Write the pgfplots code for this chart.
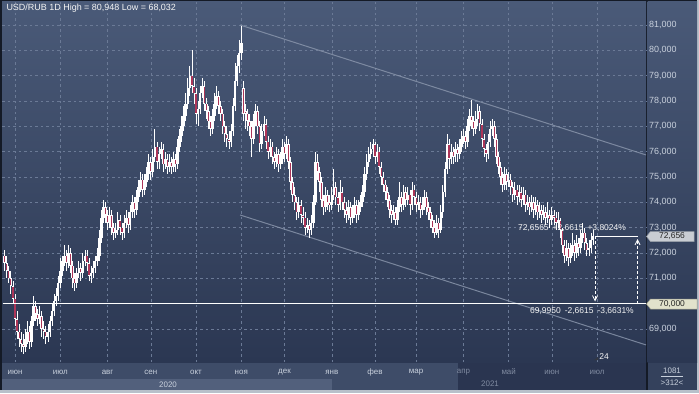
\documentclass[border=0pt]{standalone}
\usepackage{pgfplots}
\pgfplotsset{compat=1.18}
\usepackage{pgfplotstable}
\usepackage{fontspec}
\setmainfont{Liberation Sans}
\usetikzlibrary{arrows.meta}
\definecolor{bgtop}{HTML}{4A5A78}
\definecolor{bgbot}{HTML}{2B3752}
\definecolor{gridc}{HTML}{6B7A96}
\definecolor{framec}{HTML}{B8C0CA}
\definecolor{darkl}{HTML}{141A26}
\definecolor{mrow}{HTML}{3E4C68}
\definecolor{yrow}{HTML}{52607C}
\definecolor{drow}{HTML}{2A3550}
\definecolor{rbox}{HTML}{34415C}
\definecolor{lbl}{HTML}{C8D0DC}
\definecolor{dimtxt}{HTML}{7F8AA0}
\definecolor{candred}{HTML}{AC3558}
\definecolor{chan}{HTML}{8C98AE}
\pgfplotstableread{
i o h l c
0 71.9 72.1 71.3 71.6
1 71.6 71.9 71.0 71.3
2 71.3 71.5 70.8 71.0
3 71.0 71.3 70.4 70.7
4 70.7 70.9 70.0 70.2
5 70.2 70.4 69.1 69.4
6 69.4 69.7 68.6 68.9
7 68.9 69.2 68.3 68.6
8 68.6 68.9 68.1 68.4
9 68.4 68.8 68.03 68.3
10 68.3 69.0 68.1 68.6
11 68.6 69.3 68.4 68.9
12 68.9 69.1 68.2 68.5
13 68.5 69.5 68.3 69.3
14 69.3 70.3 69.1 69.9
15 69.9 70.1 69.3 69.6
16 69.6 69.8 69.1 69.4
17 69.4 69.9 69.2 69.5
18 69.5 69.7 68.7 69.0
19 69.0 69.3 68.6 68.9
20 68.9 69.1 68.4 68.7
21 68.7 69.2 68.5 68.9
22 68.9 69.5 68.7 69.3
23 69.3 70.0 69.1 69.7
24 69.7 70.4 69.5 70.1
25 70.1 70.6 69.9 70.3
26 70.3 71.1 70.1 70.8
27 70.8 71.8 70.6 71.3
28 71.3 71.9 71.1 71.7
29 71.7 72.3 71.5 71.9
30 71.9 72.1 71.3 71.6
31 71.6 72.3 71.4 72.0
32 72.0 72.2 71.2 71.5
33 71.5 71.7 70.6 71.0
34 71.0 71.2 70.5 70.8
35 70.8 71.4 70.6 71.2
36 71.2 71.7 71.0 71.4
37 71.4 71.6 70.9 71.2
38 71.2 72.0 71.0 71.7
39 71.7 72.1 71.5 71.9
40 71.9 72.1 71.3 71.6
41 71.6 71.8 70.9 71.1
42 71.1 71.5 70.8 71.2
43 71.2 71.7 71.0 71.4
44 71.4 71.9 71.2 71.7
45 71.7 72.2 71.5 71.9
46 71.9 72.9 71.7 72.6
47 72.6 73.7 72.4 73.4
48 73.4 74.1 73.2 73.8
49 73.8 74.0 73.2 73.5
50 73.5 73.7 72.9 73.2
51 73.2 73.8 73.0 73.5
52 73.5 73.7 72.7 73.0
53 73.0 73.2 72.5 72.8
54 72.8 73.2 72.6 72.9
55 72.9 73.6 72.7 73.3
56 73.3 73.5 72.7 73.0
57 73.0 73.2 72.5 72.8
58 72.8 73.5 72.6 73.2
59 73.2 73.7 73.0 73.4
60 73.4 73.6 72.8 73.1
61 73.1 73.9 72.9 73.6
62 73.6 74.3 73.4 74.0
63 74.0 74.2 73.4 73.7
64 73.7 74.5 73.5 74.2
65 74.2 74.9 74.0 74.6
66 74.6 75.2 74.4 74.9
67 74.9 75.1 74.2 74.5
68 74.5 75.1 74.3 74.8
69 74.8 75.4 74.6 75.1
70 75.1 75.9 74.9 75.6
71 75.6 75.8 74.9 75.2
72 75.2 76.1 75.0 75.8
73 75.8 76.9 75.6 76.2
74 76.2 76.4 75.3 75.6
75 75.6 76.2 75.3 75.9
76 75.9 76.4 75.7 76.1
77 76.1 76.3 75.2 75.5
78 75.5 76.0 75.3 75.7
79 75.7 75.9 75.1 75.4
80 75.4 75.9 75.2 75.6
81 75.6 75.8 75.1 75.4
82 75.4 76.0 75.2 75.7
83 75.7 75.9 75.2 75.5
84 75.5 76.5 75.3 76.2
85 76.2 76.9 76.0 76.6
86 76.6 77.4 76.4 77.0
87 77.0 77.8 76.8 77.4
88 77.4 78.3 77.2 77.9
89 77.9 78.9 77.7 78.5
90 78.5 79.4 78.2 79.0
91 79.0 80.0 78.3 78.6
92 78.6 78.9 77.9 78.3
93 78.3 78.5 77.1 77.5
94 77.5 78.0 77.0 77.7
95 77.7 78.6 77.5 78.3
96 78.3 78.9 78.1 78.6
97 78.6 78.8 77.6 77.9
98 77.9 78.1 77.3 77.6
99 77.6 77.8 76.9 77.2
100 77.2 77.4 76.6 76.9
101 76.9 77.7 76.7 77.4
102 77.4 78.3 77.2 77.9
103 77.9 78.6 77.7 78.2
104 78.2 78.4 77.5 77.8
105 77.8 78.0 77.2 77.5
106 77.5 77.7 76.7 77.0
107 77.0 77.2 76.4 76.7
108 76.7 77.0 76.2 76.5
109 76.5 76.8 76.1 76.4
110 76.4 77.1 76.2 76.8
111 76.8 78.1 76.6 77.8
112 77.8 79.5 77.6 78.8
113 78.8 79.8 78.6 79.4
114 79.4 80.4 79.1 79.9
115 79.9 80.948 79.6 80.3
116 78.5 78.8 77.2 77.5
117 77.6 77.9 76.9 77.5
118 77.5 77.7 76.8 77.2
119 77.2 77.5 76.6 77.0
120 77.0 77.2 75.8 76.5
121 76.5 77.5 76.3 77.2
122 77.2 77.9 77.0 77.6
123 77.6 77.8 76.7 77.0
124 77.0 77.2 76.0 76.3
125 76.3 77.1 76.1 76.8
126 76.8 77.4 76.6 77.1
127 77.1 77.3 76.1 76.4
128 76.4 76.6 75.7 76.0
129 76.0 76.5 75.8 76.2
130 76.2 76.4 75.5 75.8
131 75.8 76.0 75.3 75.6
132 75.6 76.2 75.4 75.9
133 75.9 76.1 75.2 75.5
134 75.5 76.0 75.3 75.7
135 75.7 76.5 75.5 76.2
136 76.2 76.4 75.6 75.9
137 75.9 76.6 75.7 76.3
138 76.3 76.5 75.3 75.6
139 75.6 75.8 74.5 74.8
140 74.8 75.0 74.0 74.3
141 74.3 74.6 73.7 74.0
142 74.0 74.2 73.3 73.6
143 73.6 74.2 73.4 73.9
144 73.9 74.1 73.2 73.5
145 73.5 73.8 73.1 73.4
146 73.4 73.6 72.7 73.0
147 73.0 73.4 72.8 73.1
148 73.1 73.3 72.6 72.9
149 72.9 73.5 72.7 73.2
150 73.2 74.3 73.0 74.0
151 74.0 76.0 73.9 75.6
152 75.6 75.9 74.9 75.2
153 75.2 75.4 74.4 74.8
154 74.8 75.0 73.8 74.1
155 74.1 74.3 73.5 73.8
156 73.8 74.6 73.6 74.3
157 74.3 74.5 73.7 74.0
158 74.0 74.3 73.6 73.9
159 73.9 74.6 73.7 74.3
160 74.3 75.3 74.1 74.6
161 74.6 74.8 73.9 74.2
162 74.2 74.4 73.6 73.9
163 73.9 74.9 73.7 74.4
164 74.4 74.6 73.7 74.0
165 74.0 74.2 73.4 73.7
166 73.7 74.0 73.2 73.5
167 73.5 74.1 73.3 73.8
168 73.8 74.0 73.1 73.4
169 73.4 73.9 73.2 73.6
170 73.6 74.2 73.4 73.9
171 73.9 74.1 73.2 73.5
172 73.5 74.1 73.3 73.8
173 73.8 74.3 73.6 74.0
174 74.0 74.7 73.8 74.4
175 74.4 75.4 74.2 75.1
176 75.1 75.9 74.9 75.6
177 75.6 76.2 75.4 75.9
178 75.9 76.4 75.7 76.1
179 76.1 76.5 75.8 76.3
180 76.3 76.4 75.5 75.8
181 75.8 76.3 75.6 76.0
182 76.0 76.2 75.1 75.4
183 75.4 75.6 74.7 75.0
184 75.0 75.2 74.4 74.7
185 74.7 74.9 74.1 74.4
186 74.4 74.6 73.8 74.1
187 74.1 74.3 73.4 73.7
188 73.7 73.9 73.2 73.5
189 73.5 73.9 73.3 73.6
190 73.6 73.8 73.1 73.3
191 73.3 74.1 73.1 73.8
192 73.8 74.8 73.6 74.2
193 74.2 74.4 73.6 73.9
194 73.9 74.7 73.7 74.4
195 74.4 74.6 73.8 74.1
196 74.1 74.6 73.9 74.3
197 74.3 74.5 73.5 73.9
198 73.9 74.8 73.7 74.5
199 74.5 74.7 73.9 74.2
200 74.2 74.4 73.6 73.9
201 73.9 74.3 73.7 74.0
202 74.0 74.2 73.4 73.7
203 73.7 74.2 73.5 73.9
204 73.9 74.5 73.7 74.2
205 74.2 74.4 73.5 73.8
206 73.8 74.0 73.3 73.6
207 73.6 73.8 73.0 73.3
208 73.3 73.5 72.8 73.0
209 73.0 73.3 72.6 72.8
210 72.8 73.5 72.7 73.2
211 73.2 73.4 72.6 72.9
212 72.9 73.9 72.8 73.6
213 73.6 74.7 73.4 74.4
214 74.4 75.6 74.2 75.3
215 75.3 76.7 75.1 76.3
216 76.3 76.5 75.3 75.7
217 75.7 76.3 75.5 76.0
218 76.0 76.2 75.5 75.8
219 75.8 76.4 75.6 76.1
220 76.1 76.3 75.6 75.9
221 75.9 76.5 75.7 76.2
222 76.2 76.8 76.0 76.5
223 76.5 76.9 76.3 76.6
224 76.6 76.8 76.1 76.4
225 76.4 77.3 76.2 77.0
226 77.0 77.7 76.8 77.4
227 77.4 78.05 76.9 77.2
228 77.2 77.4 76.6 76.9
229 76.9 77.6 76.7 77.3
230 77.3 77.9 77.0 77.6
231 77.6 77.8 76.8 77.1
232 77.1 77.3 76.2 76.5
233 76.5 76.7 75.8 76.1
234 76.1 76.3 75.6 75.9
235 75.9 76.7 75.7 76.4
236 76.4 77.2 76.2 76.9
237 76.9 77.3 76.6 77.0
238 77.0 77.2 76.2 76.5
239 76.5 76.7 75.5 75.8
240 75.8 76.0 75.1 75.4
241 75.4 75.6 74.7 75.0
242 75.0 75.2 74.4 74.7
243 74.7 75.4 74.5 75.1
244 75.1 75.3 74.5 74.8
245 74.8 75.2 74.6 74.9
246 74.9 75.1 74.3 74.6
247 74.6 74.8 74.0 74.3
248 74.3 74.8 74.1 74.5
249 74.5 74.7 73.9 74.2
250 74.2 74.7 74.0 74.4
251 74.4 74.6 73.8 74.1
252 74.1 74.6 73.9 74.3
253 74.3 74.5 73.6 73.9
254 73.9 74.3 73.7 74.0
255 74.0 74.2 73.5 73.8
256 73.8 74.3 73.6 74.0
257 74.0 74.2 73.4 73.7
258 73.7 74.2 73.5 73.9
259 73.9 74.1 73.3 73.6
260 73.6 74.0 73.4 73.7
261 73.7 73.9 73.2 73.5
262 73.5 73.9 73.3 73.6
263 73.6 73.8 73.1 73.4
264 73.4 74.0 73.2 73.5
265 73.5 73.7 73.0 73.3
266 73.3 73.8 73.1 73.5
267 73.5 73.7 73.1 73.4
268 73.4 73.6 72.9 73.2
269 73.2 73.6 73.0 73.3
270 73.3 73.4 72.6 72.9
271 72.9 73.0 72.0 72.3
272 72.3 72.5 71.6 71.9
273 71.9 72.5 71.7 72.2
274 72.2 72.4 71.5 71.8
275 71.8 72.4 71.6 72.1
276 72.1 72.8 71.9 72.3
277 72.3 72.5 71.7 72.0
278 72.0 72.7 71.8 72.4
279 72.4 72.6 71.9 72.2
280 72.2 72.9 72.0 72.6
281 72.6 73.2 72.4 72.8
282 72.8 73.0 72.1 72.4
283 72.4 72.6 71.9 72.1
284 72.1 72.5 71.9 72.2
285 72.2 72.8 72.0 72.5
286 72.5 72.9 72.3 72.656
}\candles
\begin{document}
\begin{tikzpicture}
\begin{scope}[x=1bp,y=1bp]
\path[use as bounding box] (0,0) rectangle (699,393);
\fill[framec] (0,0) rectangle (699,393);
\fill[darkl] (0,3) rectangle (697,393);
\shade[top color=bgtop, bottom color=bgbot] (2,31) rectangle (646,391);
\shade[top color=bgtop, bottom color=bgbot] (647.5,31) rectangle (697,391);
\fill[mrow] (2,14) rectangle (458,30);
\fill[yrow] (2,3) rectangle (332,14);
\fill[mrow] (332,3) rectangle (458,14);
\fill[drow] (458,3) rectangle (646,30);
\fill[rbox] (647.5,3) rectangle (697,30);
\end{scope}
\begin{axis}[
  at={(2bp,31bp)}, anchor=south west,
  scale only axis, width=644bp, height=360bp,
  xmin=-1.32, xmax=311.76, ymin=67.696, ymax=81.908,
  axis line style={draw=none}, tick style={draw=none},
  major tick length=0pt,
  clip=false,
  grid=major,
  grid style={gridc, line width=0.5bp, dash pattern=on 2.5bp off 3bp},
  xtick={5,27,50,71,93,115,136,159,180,200,223,245,266,288},
  xticklabels={июн,июл,авг,сен,окт,ноя,дек,янв,фев,мар,\textcolor{dimtxt}{апр},\textcolor{dimtxt}{май},\textcolor{dimtxt}{июн},\textcolor{dimtxt}{июл}},
  xticklabel style={anchor=center, yshift=-10bp, text=lbl, font=\fontsize{8}{9}\selectfont},
  ytick={69,71,72,...,81},
  yticklabel pos=right,
  yticklabel style={anchor=west, inner sep=0pt, xshift=3bp, text=lbl, font=\fontsize{9}{10}\selectfont},
  /pgf/number format/.cd, fixed, fixed zerofill, precision=3, use comma, 1000 sep={}, assume math mode=true,
]
% channel lines
\addplot[chan, line width=1bp, opacity=0.8] coordinates {(114.4,81.0) (311.76,75.87)};
\addplot[chan, line width=1bp, opacity=0.8] coordinates {(114.4,73.50) (311.76,68.37)};
% wicks
\addplot[draw=none, mark=none, error bars/.cd, y dir=both, y explicit, error mark=none,
  error bar style={draw=white, line width=0.8bp}]
  table[x=i, y=c, y error plus expr=\thisrow{h}-\thisrow{c}, y error minus expr=\thisrow{c}-\thisrow{l}] {\candles};
% bodies
\addplot[draw=none, mark=none, error bars/.cd, y dir=both, y explicit, error mark=none,
  error bar style={draw=white, line width=2.5bp}]
  table[x=i, y expr=(\thisrow{o}+\thisrow{c})/2, y error expr={max(abs(\thisrow{o}-\thisrow{c})/2,0.025)}] {\candles};
% red interior of falling candles
\addplot[draw=none, mark=none, error bars/.cd, y dir=both, y explicit, error mark=none,
  error bar style={draw=candred, line width=1.2bp}]
  table[x=i, y expr=(\thisrow{o}+\thisrow{c})/2, y error expr={max((\thisrow{o}-\thisrow{c})/2-0.03,0)}] {\candles};
% level lines
\addplot[white, line width=1.1bp] coordinates {(-1.0,69.995) (311.76,69.995)};
\addplot[white, line width=1bp] coordinates {(286.9,72.6565) (307.8,72.6565)};
\end{axis}
\begin{scope}[x=1bp,y=1bp, font=\fontsize{8.5}{10}\selectfont]
% dashed measurement lines
\draw[white, line width=0.8bp, dash pattern=on 3bp off 2bp, -{Straight Barb[length=5bp,width=5bp]}] (595,157) -- (595,91.5);
\draw[white, line width=0.8bp, dash pattern=on 3bp off 2bp, -{Straight Barb[length=5bp,width=5bp]}] (637.5,89) -- (637.5,154);
\node[text=white!92!gray] at (572,165) {72,6565\hspace{4bp}+2,6615\hspace{4bp}+3,8024\%};
\node[text=white!92!gray] at (582,81.5) {69,9950\hspace{4bp}-2,6615\hspace{4bp}-3,6631\%};
% callouts
\filldraw[fill={rgb,255:red,201;green,205;blue,211}, draw={rgb,255:red,150;green,156;blue,166}, line width=0.5bp]
  (646.5,156.5) -- (650.5,161.5) -- (694,161.5) -- (694,151.5) -- (650.5,151.5) -- cycle;
\node[text=black!85] at (672,156.5) {72,656};
\filldraw[fill={rgb,255:red,226;green,226;blue,204}, draw={rgb,255:red,160;green,160;blue,140}, line width=0.5bp]
  (646.5,89) -- (650.5,94) -- (697,94) -- (697,84) -- (650.5,84) -- cycle;
\node[text=black!85] at (672,89) {70,000};
% title
\node[anchor=west, text=white!92!gray, font=\fontsize{9}{10}\selectfont] at (3,385) {USD/RUB 1D High = 80,948 Low = 68,032};
% years
\node[text=lbl, font=\fontsize{8}{9}\selectfont] at (168,8.5) {2020};
\node[text=dimtxt, font=\fontsize{8}{9}\selectfont] at (490,9.5) {2021};
% misc
\fill[darkl!70!gray] (594,33) -- (598,36) -- (598,33) -- cycle;
\node[text=white!92!gray] at (604,36) {24};
\node[text=lbl, font=\fontsize{8}{9}\selectfont] at (672,22.5) {1081};
\draw[lbl, line width=0.4bp] (661,16.5) -- (683,16.5);
\node[text=lbl, font=\fontsize{8}{9}\selectfont] at (672,10) {>312<};
\end{scope}
\end{tikzpicture}
\end{document}
